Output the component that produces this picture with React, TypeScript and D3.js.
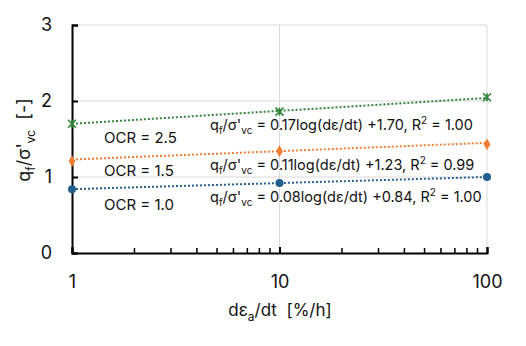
import React, { useEffect, useRef } from 'react';
import * as d3 from 'd3';

const rates = [1, 10, 100];
const ocr10 = [0.84, 0.92, 1.0];
const ocr15 = [1.21, 1.34, 1.43];
const ocr25 = [1.7, 1.86, 2.05];
const fitSlope = [0.08, 0.11, 0.17];
const fitIntercept = [0.84, 1.23, 1.7];
const fitR2 = ['1.00', '0.99', '1.00'];
const ocrLabels = ['OCR = 1.0', 'OCR = 1.5', 'OCR = 2.5'];
const colors = ['#215f8e', '#ed7d31', '#2e8537'];
const yTicks = [0, 1, 2, 3];
const xTicks = [1, 10, 100];

const App = () => {
  const svgRef = useRef<SVGSVGElement>(null);

  useEffect(() => {
    const width = 526;
    const height = 346;
    const left = 72, right = 487, top = 25, bottom = 253;
    const font = 'Inter, sans-serif';

    const svg = d3.select(svgRef.current);
    svg.selectAll('*').remove();
    svg.attr('width', width).attr('height', height);

    const x = d3.scaleLog().domain([1, 100]).range([left, right]);
    const y = d3.scaleLinear().domain([0, 3]).range([bottom, top]);

    // gridlines
    svg.append('g')
      .selectAll('line.h')
      .data(yTicks.filter(d => d > 0))
      .enter()
      .append('line')
      .attr('x1', left).attr('x2', right)
      .attr('y1', d => y(d)).attr('y2', d => y(d))
      .attr('stroke', '#d9d9d9').attr('stroke-width', 1);
    svg.append('g')
      .selectAll('line.v')
      .data(xTicks.filter(d => d > 1))
      .enter()
      .append('line')
      .attr('x1', d => x(d)).attr('x2', d => x(d))
      .attr('y1', top).attr('y2', bottom)
      .attr('stroke', '#d9d9d9').attr('stroke-width', 1);

    // axes
    const yAxis = svg.append('g')
      .attr('transform', `translate(${left},0)`)
      .call(d3.axisLeft(y).tickValues(yTicks).tickSize(-6).tickPadding(20).tickFormat(d3.format('d')));
    yAxis.select('.domain').attr('stroke', '#000').attr('stroke-width', 2);
    yAxis.selectAll('.tick line').attr('stroke', '#000').attr('stroke-width', 2);
    yAxis.selectAll('.tick text').attr('font-family', font).attr('font-size', 18).attr('fill', '#111');

    const minor = d3.range(2, 10).concat(d3.range(20, 100, 10));
    const xAxis = svg.append('g')
      .attr('transform', `translate(0,${bottom})`)
      .call(d3.axisBottom(x).tickValues(xTicks).tickSize(-6).tickPadding(22).tickFormat(d3.format('d')));
    xAxis.select('.domain').attr('stroke', '#000').attr('stroke-width', 2);
    xAxis.selectAll('.tick line').attr('stroke', '#000').attr('stroke-width', 2);
    xAxis.selectAll('.tick text').attr('font-family', font).attr('font-size', 18).attr('fill', '#111');
    xAxis.selectAll('line.minor')
      .data(minor)
      .enter()
      .append('line')
      .attr('x1', d => x(d)).attr('x2', d => x(d))
      .attr('y1', 0).attr('y2', -5)
      .attr('stroke', '#000').attr('stroke-width', 1.5);

    const series = [ocr10, ocr15, ocr25];

    series.forEach((vals, i) => {
      const fit = (r: number) => fitSlope[i] * Math.log10(r) + fitIntercept[i];
      const line = d3.line<number>().x(r => x(r)).y(r => y(fit(r)));
      svg.append('path')
        .attr('d', line([1, 100]))
        .attr('fill', 'none')
        .attr('stroke', colors[i])
        .attr('stroke-width', 2)
        .attr('stroke-dasharray', '2,2');

      const pts = svg.append('g');
      rates.forEach((r, j) => {
        const cx = x(r), cy = y(vals[j]);
        if (i === 0) {
          pts.append('circle').attr('cx', cx).attr('cy', cy).attr('r', 4).attr('fill', colors[i]);
        } else if (i === 1) {
          pts.append('path')
            .attr('d', d3.symbol(d3.symbolDiamond, 40)())
            .attr('transform', `translate(${cx},${cy})`)
            .attr('fill', colors[i]);
        } else {
          pts.append('path')
            .attr('d', `M${cx - 4},${cy - 4}L${cx + 4},${cy + 4}M${cx - 4},${cy + 4}L${cx + 4},${cy - 4}M${cx},${cy - 4}L${cx},${cy + 4}`)
            .attr('stroke', colors[i]).attr('stroke-width', 1.6);
        }
      });
    });

    // OCR labels
    const ocrY = [205, 171, 138];
    ocrLabels.forEach((t, i) => {
      svg.append('text')
        .attr('x', 104).attr('y', ocrY[i])
        .attr('dy', '0.35em')
        .attr('font-family', font).attr('font-size', 15).attr('fill', '#111')
        .text(t);
    });

    // equation labels
    const eqY = [197, 165, 125];
    fitSlope.forEach((s, i) => {
      const t = svg.append('text')
        .attr('x', 210).attr('y', eqY[i])
        .attr('dy', '0.35em')
        .attr('font-family', font).attr('font-size', 14.5).attr('fill', '#111');
      t.append('tspan').text('q');
      t.append('tspan').attr('font-size', 10).attr('dy', 4).text('f');
      t.append('tspan').attr('dy', -4).text('/σ\'');
      t.append('tspan').attr('font-size', 10).attr('dy', 4).text('vc');
      t.append('tspan').attr('dy', -4).text(` = ${s.toFixed(2)}log(dε/dt) +${fitIntercept[i].toFixed(2)}, R`);
      t.append('tspan').attr('font-size', 10).attr('dy', -6).text('2');
      t.append('tspan').attr('dy', 6).text(` = ${fitR2[i]}`);
    });

    // axis titles
    const xt = svg.append('text')
      .attr('x', 280).attr('y', 316)
      .attr('text-anchor', 'middle')
      .style('white-space', 'pre')
      .attr('font-family', font).attr('font-size', 17).attr('fill', '#111');
    xt.append('tspan').text('dε');
    xt.append('tspan').attr('font-size', 12).attr('dy', 5).text('a');
    xt.append('tspan').attr('dy', -5).text('/dt  [%/h]');

    const yt = svg.append('text')
      .attr('transform', 'translate(30,140) rotate(-90)')
      .attr('text-anchor', 'middle')
      .style('white-space', 'pre')
      .attr('font-family', font).attr('font-size', 18).attr('fill', '#111');
    yt.append('tspan').text('q');
    yt.append('tspan').attr('font-size', 12).attr('dy', 5).text('f');
    yt.append('tspan').attr('dy', -5).text('/σ\'');
    yt.append('tspan').attr('font-size', 12).attr('dy', 5).text('vc');
    yt.append('tspan').attr('dy', -5).text('  [-]');
  }, []);

  return <svg ref={svgRef} style={{ position: 'absolute', left: 0, top: 0 }}></svg>;
};

export default App;
